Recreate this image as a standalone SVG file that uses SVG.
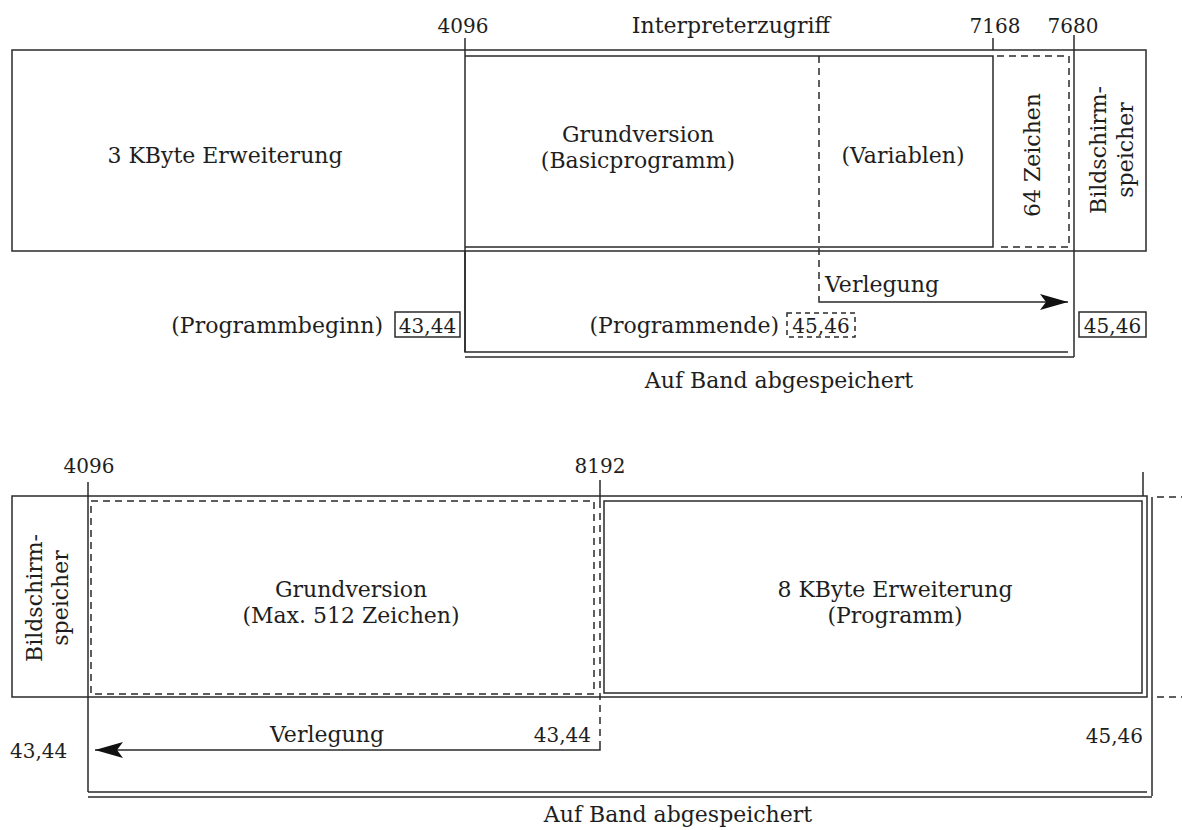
<svg xmlns="http://www.w3.org/2000/svg" width="1182" height="830" viewBox="0 0 1182 830">
<style>
  .ln{fill:none;stroke:#2a2a2a;stroke-width:1.5}
  .ds{fill:none;stroke:#2a2a2a;stroke-width:1.5;stroke-dasharray:7 5}
  .t{font-family:"DejaVu Serif","Liberation Serif",serif;font-size:22px;fill:#1e1e1e}
  .n{font-family:"DejaVu Serif","Liberation Serif",serif;font-size:20px;fill:#1e1e1e}
  .m{text-anchor:middle}
  .e{text-anchor:end}
</style>
<defs>
  <marker id="ah" viewBox="0 0 28 16" refX="28" refY="8" markerWidth="28" markerHeight="16" markerUnits="userSpaceOnUse" orient="auto">
    <path d="M0,0 L28,8 L0,16 L6,8 Z" fill="#111"/>
  </marker>
</defs>
<rect width="1182" height="830" fill="#fff"/>

<!-- ===== TOP DIAGRAM ===== -->
<g id="top-frame">
  <rect class="ln" x="12" y="50" width="1134" height="201"/>
  <line class="ln" x1="465" y1="38" x2="465" y2="352"/>
  <line class="ln" x1="1074" y1="35" x2="1074" y2="357"/>
  <line class="ln" x1="993" y1="38" x2="993" y2="50"/>
  <text class="n m" x="463" y="33">4096</text>
  <text class="t m" x="731" y="33">Interpreterzugriff</text>
  <text class="n m" x="995" y="33">7168</text>
  <text class="n m" x="1073" y="33">7680</text>
</g>
<g id="top-erweiterung">
  <text class="t m" x="225" y="163">3 KByte Erweiterung</text>
</g>
<g id="top-grundversion">
  <path class="ln" d="M465,56 H993 V247 H465"/>
  <text class="t m" x="638" y="142">Grundversion</text>
  <text class="t m" x="638" y="168">(Basicprogramm)</text>
</g>
<g id="top-variablen">
  <text class="t m" x="903" y="163">(Variablen)</text>
</g>
<g id="top-64zeichen">
  <path class="ds" d="M997,56 H1069 V247 H997"/>
  <text class="t m" transform="translate(1040,155) rotate(-90)">64 Zeichen</text>
</g>
<g id="top-bildschirm">
  <text class="t m" transform="translate(1106,150) rotate(-90)">Bildschirm-</text>
  <text class="t m" transform="translate(1133,150) rotate(-90)">speicher</text>
</g>
<g id="top-band">
  <path class="ln" d="M465,251 V352 H1068"/>
  <line class="ln" x1="465" y1="357" x2="1074" y2="357"/>
  <text class="t e" x="383" y="333">(Programmbeginn)</text>
  <rect class="ln" x="395" y="312" width="65" height="25"/>
  <text class="n m" x="427.5" y="333">43,44</text>
  <text class="t e" x="779" y="333">(Programmende)</text>
  <rect class="ds" style="stroke-dasharray:5 4" x="787" y="313" width="68" height="24"/>
  <text class="n m" x="821" y="333">45,46</text>
  <rect class="ln" x="1079" y="312" width="67" height="25"/>
  <text class="n m" x="1112.5" y="333">45,46</text>
  <text class="t m" x="779" y="388">Auf Band abgespeichert</text>
</g>

<!-- ===== BOTTOM DIAGRAM ===== -->
<g id="bottom-frame">
  <rect class="ln" x="12" y="496" width="1135" height="201"/>
  <line class="ln" x1="88" y1="482" x2="88" y2="792"/>
  <line class="ln" x1="1152" y1="497" x2="1152" y2="796"/>
  <line class="ln" x1="1143" y1="472" x2="1143" y2="496"/>
  <line class="ln" x1="600" y1="480" x2="600" y2="501"/>
  <line class="ds" x1="1157" y1="497" x2="1182" y2="497"/>
  <line class="ds" x1="1157" y1="697" x2="1182" y2="697"/>
  <text class="n m" x="89" y="473">4096</text>
  <text class="n m" x="600" y="473">8192</text>
</g>
<g id="bottom-bildschirm">
  <text class="t m" transform="translate(42,598) rotate(-90)">Bildschirm-</text>
  <text class="t m" transform="translate(68,598) rotate(-90)">speicher</text>
</g>
<g id="bottom-grundversion">
  <rect class="ds" x="91" y="501" width="503" height="193"/>
  <text class="t m" x="351" y="597">Grundversion</text>
  <text class="t m" x="351" y="623">(Max. 512 Zeichen)</text>
</g>
<g id="bottom-erweiterung">
  <rect class="ln" x="604" y="501" width="538" height="192"/>
  <text class="t m" x="895" y="597">8 KByte Erweiterung</text>
  <text class="t m" x="895" y="623">(Programm)</text>
</g>
<g id="bottom-band">
  <path class="ln" d="M88,792 H1147"/>
  <line class="ln" x1="88" y1="797" x2="1152" y2="797"/>
  <text class="t" x="270" y="742">Verlegung</text>
  <text class="n e" x="591" y="742">43,44</text>
  <text class="n" x="10" y="758">43,44</text>
  <text class="n e" x="1143" y="743">45,46</text>
  <text class="t m" x="678" y="822">Auf Band abgespeichert</text>
</g>

<!-- ===== CONNECTORS ===== -->
<g id="connectors">
  <path class="ds" d="M819,56 V300"/>
  <path class="ln" d="M819,300 V302 H1068" marker-end="url(#ah)"/>
  <text class="t" x="825" y="292">Verlegung</text>
  <path class="ds" d="M600,501 V748"/>
  <path class="ln" d="M600,748 V750 H95" marker-end="url(#ah)"/>
</g>
</svg>
